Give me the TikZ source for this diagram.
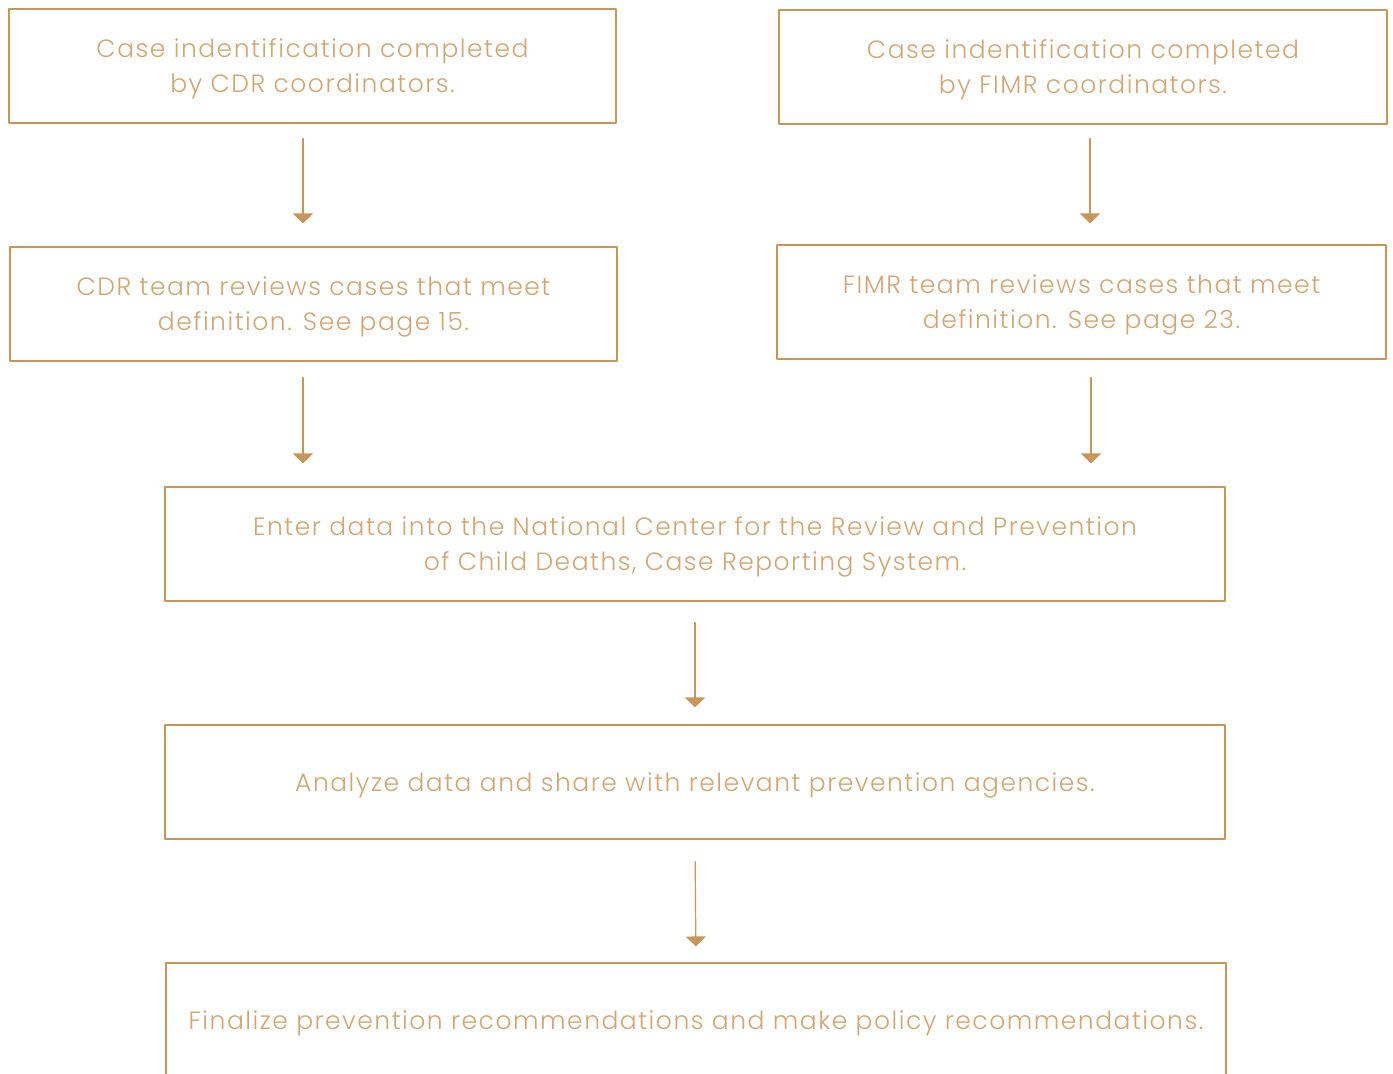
\documentclass[tikz,border=0pt]{standalone}
\usepackage{fontspec}
\setmainfont{Poppins}[UprightFont=* Light, LetterSpace=6]
\usetikzlibrary{arrows.meta}
\usetikzlibrary{positioning}
\definecolor{tan}{RGB}{200,150,90}
\definecolor{tantext}{RGB}{210,166,116}

\begin{document}
\begin{tikzpicture}[line cap=round,line join=round, x=1pt,y=-1pt,
  stepbox/.style={draw=tan, line width=1.1pt, text=tantext, align=center,
    inner sep=0pt, text depth=0pt, font=\fontsize{25}{35}\selectfont},
  flow/.style={draw=tan, line width=1.2pt, -{Triangle[length=10pt, width=20pt]}}]
\useasboundingbox (0,0) rectangle (1393,1074);
\clip (0,0) rectangle (1393,1074);
\node[stepbox, minimum width=607, minimum height=114] (cdrA) at (312.5,66) {Case indentification completed\\by CDR coordinators.};
\node[stepbox, minimum width=608, minimum height=114] (fimrA) at (1083,67) {Case indentification completed\\by FIMR coordinators.};
\node[stepbox, minimum width=607, minimum height=114] (cdrB) at (313.5,304) {CDR team reviews cases that meet\\definition. See page 15.};
\node[stepbox, minimum width=609, minimum height=114] (fimrB) at (1081.5,302) {FIMR team reviews cases that meet\\definition. See page 23.};
\node[stepbox, minimum width=1060, minimum height=114] (enter) at (695,544) {Enter data into the National Center for the Review and Prevention\\of Child Deaths, Case Reporting System.};
\node[stepbox, minimum width=1060, minimum height=114] (share) at (695,782) {Analyze data and share with relevant prevention agencies.};
\node[stepbox, minimum width=1060, minimum height=114] (final) at (696,1020) {Finalize prevention recommendations and make policy recommendations.};
% arrows
\draw[flow, shorten <=15pt, shorten >=23pt] ([xshift=-9.5]cdrA.south) -- ([xshift=-10.5]cdrB.north);
\draw[flow, shorten <=14pt, shorten >=21pt] ([xshift=7]fimrA.south) -- ([xshift=8.5]fimrB.north);
\draw[flow, shorten <=16pt, shorten >=23pt] ([xshift=-10.5]cdrB.south) -- ([xshift=-10.5]cdrB.south |- enter.north);
\draw[flow, shorten <=18pt, shorten >=23pt] ([xshift=9.5]fimrB.south) -- ([xshift=9.5]fimrB.south |- enter.north);
\draw[flow, shorten <=21pt, shorten >=17pt] (enter.south) -- (share.north);
\draw[flow, shorten <=22pt, shorten >=16pt] (share.south) -- (final.north);
\end{tikzpicture}
\end{document}
